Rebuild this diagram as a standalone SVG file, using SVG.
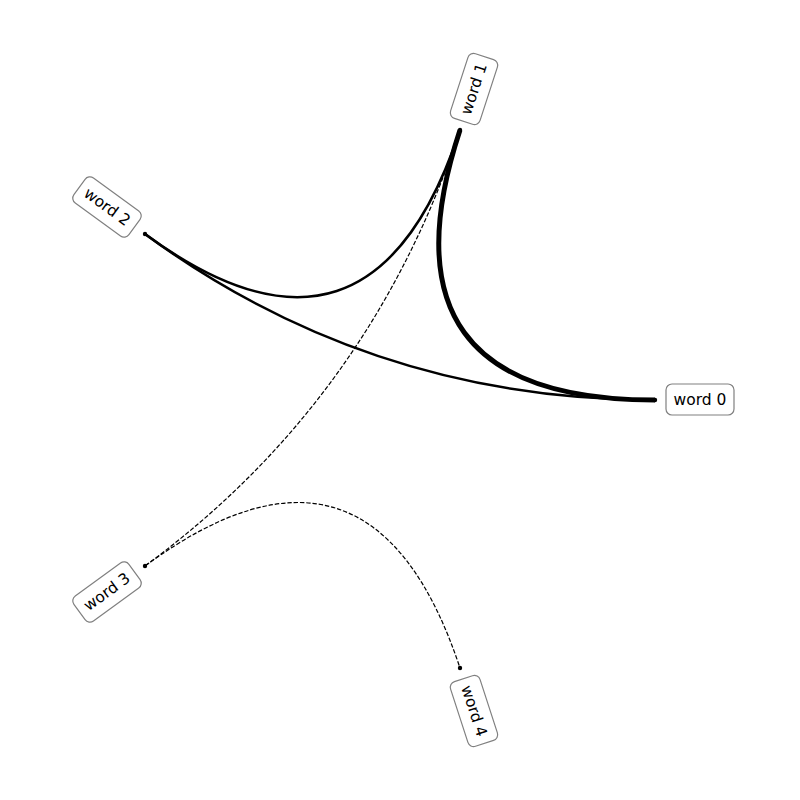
<svg xmlns="http://www.w3.org/2000/svg" width="800" height="800" viewBox="0 0 800 800">
<style>
.e{fill:none;stroke:#000}
.lbl rect{fill:#fff;stroke:#808080;stroke-width:1.2}
.lbl text{font-family:"DejaVu Sans",sans-serif;font-size:15.5px;fill:#000;text-anchor:middle;dominant-baseline:central}
.dot{fill:#000}
</style>
<rect width="800" height="800" fill="#fff"/>
<g id="edges">
<path class="e" d="M655,400 Q371,400 460,130" stroke-width="5"/>
<path class="e" d="M655,400 Q371,400 145,234" stroke-width="2.5"/>
<path class="e" d="M460,130 Q371,400 145,234" stroke-width="2.5"/>
<path class="e" d="M460,130 Q371,400 145,566" stroke-width="1.2" stroke-dasharray="4.4,1.9"/>
<path class="e" d="M145,566 Q371,400 460,668" stroke-width="1.2" stroke-dasharray="4.4,1.9"/>
</g>
<g id="word0"><circle class="dot" cx="655" cy="400" r="2.2"/><g class="lbl" transform="translate(700,399.5)"><rect x="-34" y="-15.5" width="68" height="31" rx="6"/><text>word 0</text></g></g>
<g id="word1"><circle class="dot" cx="460" cy="130" r="2.2"/><g class="lbl" transform="translate(474,89) rotate(-72)"><rect x="-34" y="-15.5" width="68" height="31" rx="6"/><text>word 1</text></g></g>
<g id="word2"><circle class="dot" cx="145" cy="234" r="2.2"/><g class="lbl" transform="translate(107,207) rotate(36)"><rect x="-34" y="-15.5" width="68" height="31" rx="6"/><text>word 2</text></g></g>
<g id="word3"><circle class="dot" cx="145" cy="566" r="2.2"/><g class="lbl" transform="translate(107,592) rotate(-36)"><rect x="-34" y="-15.5" width="68" height="31" rx="6"/><text>word 3</text></g></g>
<g id="word4"><circle class="dot" cx="460" cy="668" r="2.2"/><g class="lbl" transform="translate(474,711) rotate(72)"><rect x="-34" y="-15.5" width="68" height="31" rx="6"/><text>word 4</text></g></g>
</svg>
